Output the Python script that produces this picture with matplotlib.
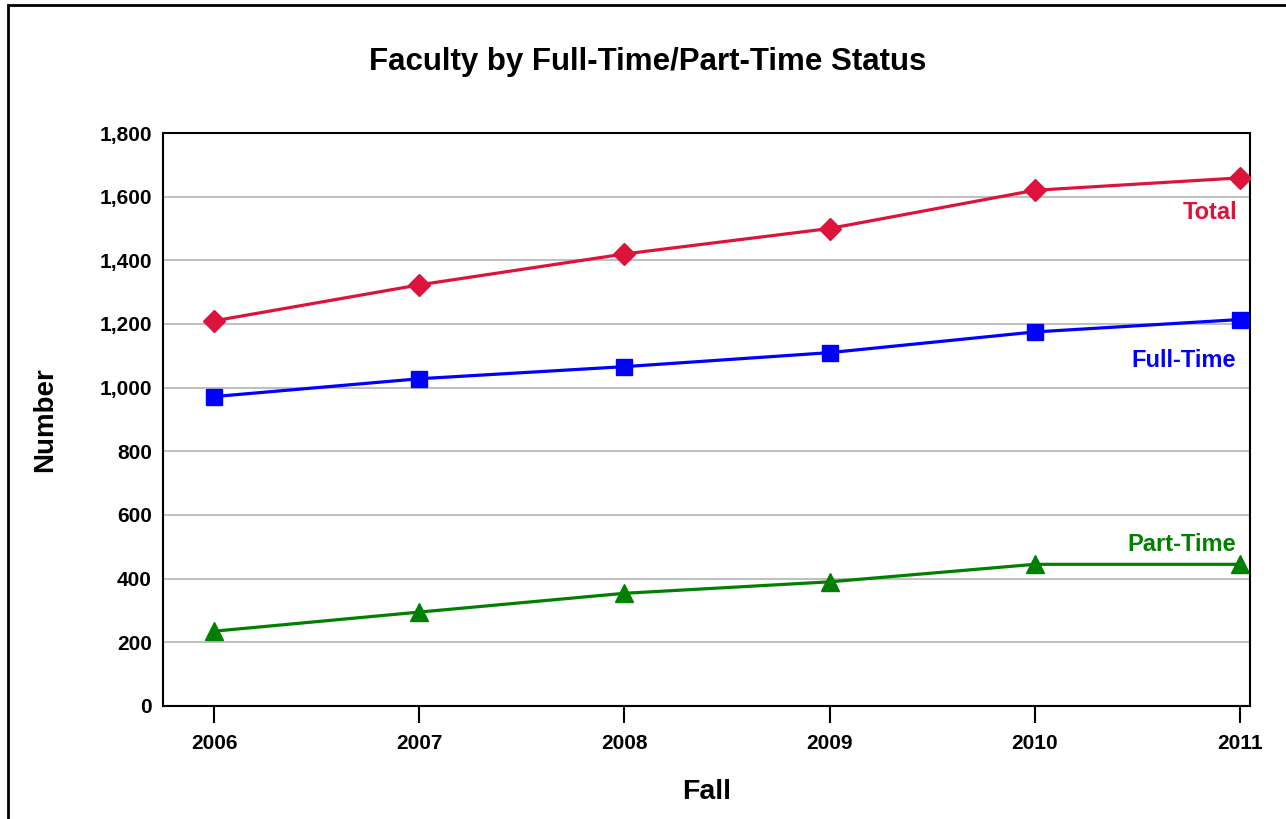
import matplotlib
matplotlib.use('Agg')
import matplotlib.pyplot as plt
from matplotlib.patches import Rectangle
from matplotlib.ticker import FuncFormatter

plt.rcParams['font.family'] = ['Liberation Sans', 'DejaVu Sans']

years = [2006, 2007, 2008, 2009, 2010, 2011]
total = [1210, 1323, 1420, 1500, 1620, 1659]
full_time = [972, 1028, 1066, 1110, 1175, 1214]
part_time = [235, 295, 354, 390, 445, 445]

fig = plt.figure(figsize=(12.86, 8.19), dpi=100)
ax = fig.add_axes([0.1267, 0.138, 0.8453, 0.6996])

# outer frame
fig.patches.append(Rectangle((8 / 1286, -0.1), 1.2, (819 - 5) / 819 + 0.1,
                             transform=fig.transFigure, fill=False,
                             edgecolor='black', linewidth=2))

ax.plot(years, total, color='#DC143C', lw=2.3, marker='D', ms=11, zorder=3)
ax.plot(years, full_time, color='#0000FF', lw=2.3, marker='s', ms=11, zorder=3)
ax.plot(years, part_time, color='#008000', lw=2.3, marker='^', ms=13, zorder=3)

ax.set_xlim(2005.75, 2011.05)
ax.set_ylim(0, 1800)
ax.set_yticks(range(0, 1801, 200))
ax.yaxis.set_major_formatter(FuncFormatter(lambda v, p: f'{int(v):,}'))
ax.set_xticks(years)
ax.grid(axis='y', color='#C0C0C0', lw=1.5)
ax.set_axisbelow(True)
for s in ax.spines.values():
    s.set_linewidth(1.5)

ax.tick_params(axis='y', length=0, pad=8, labelsize=15)
ax.tick_params(axis='x', length=12, width=1.5, direction='out', pad=8, labelsize=15)
for lab in ax.get_xticklabels() + ax.get_yticklabels():
    lab.set_fontweight('bold')

ax.text(2010.99, 1550, 'Total', color='#DC143C', fontsize=17, fontweight='bold',
        ha='right', va='center')
ax.text(2010.98, 1085, 'Full-Time', color='#0000FF', fontsize=17, fontweight='bold',
        ha='right', va='center')
ax.text(2010.98, 508, 'Part-Time', color='#008000', fontsize=17, fontweight='bold',
        ha='right', va='center')

fig.text(648 / 1286, 1 - 62 / 819, 'Faculty by Full-Time/Part-Time Status',
         fontsize=22.5, fontweight='bold', ha='center', va='center')
fig.text(707 / 1286, 1 - 792 / 819, 'Fall', fontsize=20.5, fontweight='bold',
         ha='center', va='center')
fig.text(45 / 1286, 1 - 420 / 819, 'Number', fontsize=20, fontweight='bold',
         ha='center', va='center', rotation=90)

fig.savefig('out.png', dpi=100)
